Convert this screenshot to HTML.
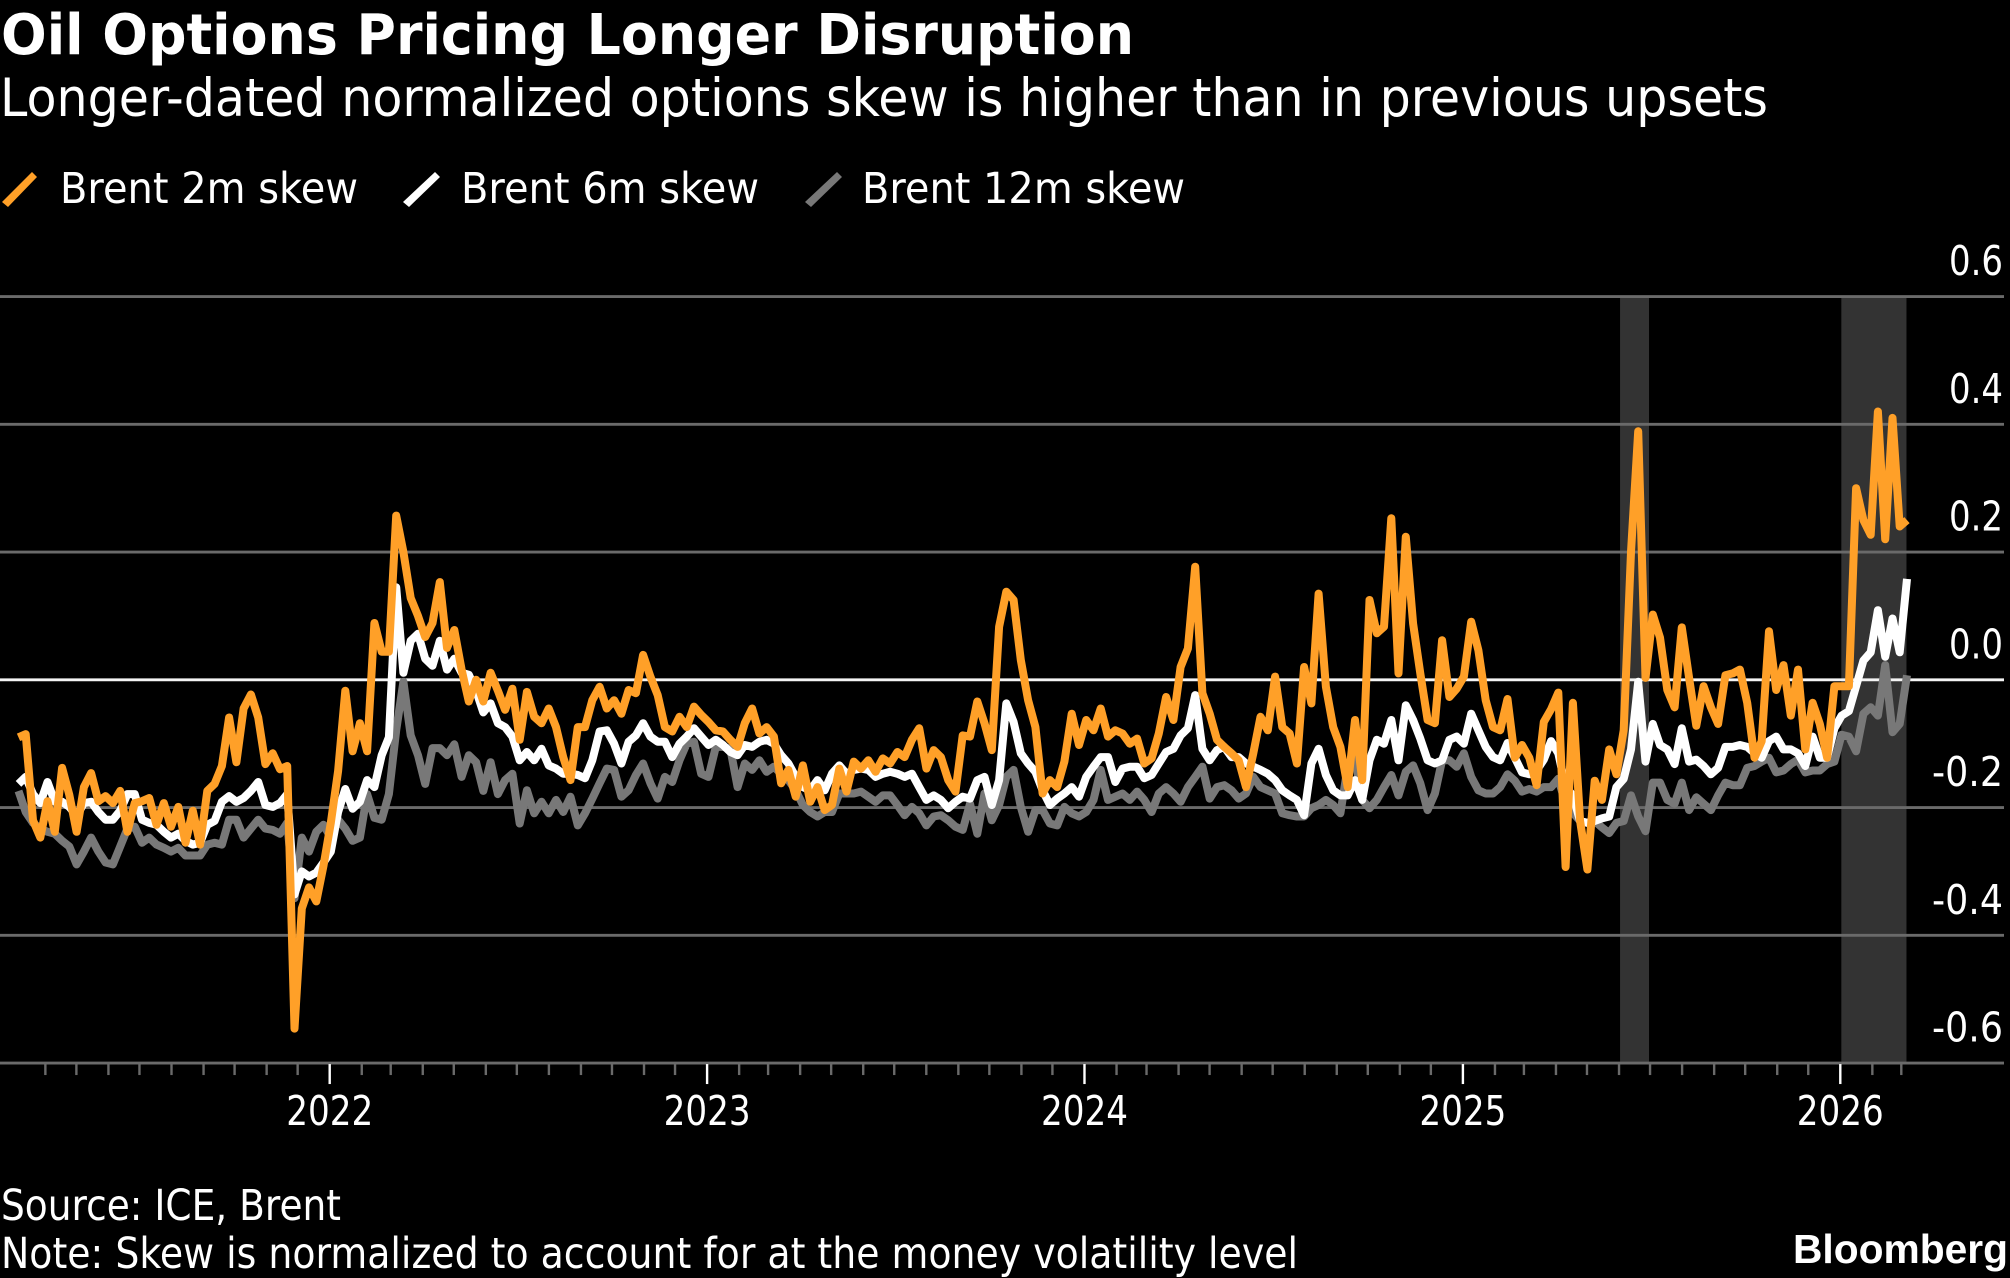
<!DOCTYPE html>
<html lang="en">
<head>
<meta charset="utf-8">
<title>Oil Options Pricing Longer Disruption</title>
<style>
html,body{margin:0;padding:0;background:#000;width:2010px;height:1278px;overflow:hidden}
svg{display:block}
text{fill:#fff;font-family:"DejaVu Sans","Liberation Sans",sans-serif}
</style>
</head>
<body>
<svg id="chart" xmlns="http://www.w3.org/2000/svg" width="2010" height="1278" viewBox="0 0 2010 1278">
  <rect x="0" y="0" width="2010" height="1278" fill="#000"/>
  <text x="1" y="54" font-size="56" font-weight="700" textLength="1133" lengthAdjust="spacingAndGlyphs">Oil Options Pricing Longer Disruption</text>
  <text x="0" y="116" font-size="53" textLength="1768" lengthAdjust="spacingAndGlyphs">Longer-dated normalized options skew is higher than in previous upsets</text>

  <g>
    <g>
      <polygon points="32,172 37,177 8,207 2,202" fill="#ffa028"/>
      <text x="60" y="203" font-size="43" textLength="298" lengthAdjust="spacingAndGlyphs">Brent 2m skew</text>
    </g>
    <g>
      <polygon points="435,172 440,177 409,207 403,202" fill="#ffffff"/>
      <text x="461" y="203" font-size="43" textLength="298" lengthAdjust="spacingAndGlyphs">Brent 6m skew</text>
    </g>
    <g>
      <polygon points="837,172 842,177 811,207 805,202" fill="#787878"/>
      <text x="862" y="203" font-size="43" textLength="323" lengthAdjust="spacingAndGlyphs">Brent 12m skew</text>
    </g>
  </g>

  <g id="bands"></g>
  <g id="grid"></g>
  <g id="yLabels"></g>
  <g id="ticks"></g>
  <g id="xLabels"></g>
  <g id="lines"></g>

  <text x="1" y="1220" font-size="43" textLength="340" lengthAdjust="spacingAndGlyphs">Source: ICE, Brent</text>
  <text x="1" y="1268" font-size="43" textLength="1297" lengthAdjust="spacingAndGlyphs">Note: Skew is normalized to account for at the money volatility level</text>
  <text x="1793" y="1263" font-size="41" font-weight="700" style="font-family:'Liberation Sans',sans-serif" textLength="215" lengthAdjust="spacingAndGlyphs">Bloomberg</text>
</svg>

<script>
const seriesStart = "2021-03-06";
const stepDays = 7.025;

const brent2m = [
-.09,-.085,-.22,-.247,-.19,-.238,-.138,-.18,-.238,-.168,-.146,-.19,-.182,-.193,-.174,-.238,-.193,-.19,-.185,-.227,
-.193,-.23,-.199,-.255,-.205,-.258,-.174,-.163,-.135,-.059,-.129,-.045,-.023,-.059,-.132,-.115,-.14,-.135,-.546,-.358,
-.325,-.347,-.291,-.224,-.143,-.017,-.112,-.068,-.112,.089,.044,.044,.257,.2,.128,.1,.067,.089,.153,.05,
.078,.016,-.034,0,-.034,.011,-.017,-.047,-.014,-.094,-.019,-.058,-.068,-.045,-.074,-.121,-.157,-.074,-.074,-.032,
-.011,-.045,-.032,-.053,-.016,-.021,.039,.005,-.024,-.074,-.081,-.058,-.074,-.042,-.055,-.066,-.079,-.081,-.094,-.105,
-.068,-.045,-.084,-.074,-.089,-.162,-.141,-.183,-.134,-.191,-.168,-.204,-.196,-.139,-.175,-.128,-.139,-.126,-.144,-.123,
-.131,-.113,-.121,-.094,-.076,-.139,-.11,-.121,-.157,-.175,-.087,-.089,-.034,-.068,-.11,.083,.138,.125,.031,-.032,
-.074,-.178,-.157,-.168,-.128,-.053,-.102,-.063,-.079,-.045,-.089,-.079,-.084,-.1,-.092,-.131,-.123,-.084,-.027,-.063,
.02,.049,.177,-.021,-.053,-.094,-.105,-.115,-.126,-.168,-.115,-.058,-.079,.005,-.074,-.084,-.131,.02,-.037,.135,
-.011,-.074,-.105,-.168,-.063,-.157,.125,.073,.083,.253,.01,.224,.088,.01,-.063,-.068,.062,-.027,-.014,.005,
.091,.046,-.032,-.074,-.079,-.03,-.122,-.102,-.122,-.165,-.066,-.046,-.02,-.293,-.036,-.221,-.297,-.158,-.188,-.109,
-.148,-.079,.2,.389,.003,.102,.066,-.016,-.043,.082,.003,-.072,-.01,-.043,-.069,.007,.01,.016,-.036,-.122,
-.096,.076,-.016,.023,-.056,.016,-.109,-.036,-.069,-.122,-.01,-.01,-.01,.3,.25,.227,.42,.22,.41,.24,.25
];

const brent6m = [
-.163,-.152,-.179,-.193,-.16,-.191,-.191,-.199,-.213,-.193,-.191,-.207,-.219,-.219,-.205,-.179,-.179,-.219,-.224,-.227,
-.238,-.247,-.241,-.252,-.258,-.255,-.227,-.221,-.191,-.182,-.191,-.185,-.174,-.16,-.196,-.199,-.193,-.179,-.336,-.3,
-.308,-.302,-.286,-.269,-.207,-.171,-.202,-.191,-.157,-.168,-.118,-.09,.145,.011,.061,.072,.033,.022,.061,.016,
.033,.011,.008,-.017,-.051,-.037,-.068,-.074,-.089,-.126,-.113,-.126,-.108,-.134,-.139,-.147,-.147,-.149,-.154,-.126,
-.081,-.079,-.1,-.131,-.097,-.087,-.068,-.089,-.097,-.097,-.121,-.1,-.089,-.076,-.089,-.102,-.094,-.102,-.113,-.118,
-.102,-.105,-.097,-.094,-.1,-.118,-.131,-.152,-.168,-.173,-.157,-.173,-.147,-.134,-.147,-.141,-.139,-.141,-.152,-.147,
-.144,-.147,-.152,-.147,-.168,-.188,-.181,-.188,-.201,-.191,-.183,-.186,-.157,-.152,-.196,-.157,-.037,-.066,-.115,-.131,
-.144,-.173,-.196,-.186,-.178,-.168,-.183,-.152,-.136,-.121,-.121,-.16,-.139,-.136,-.136,-.154,-.149,-.131,-.113,-.108,
-.087,-.076,-.024,-.108,-.126,-.11,-.105,-.121,-.121,-.131,-.136,-.141,-.147,-.157,-.173,-.181,-.188,-.212,-.131,-.108,
-.149,-.173,-.181,-.181,-.157,-.188,-.126,-.094,-.1,-.063,-.126,-.04,-.063,-.092,-.126,-.131,-.126,-.094,-.089,-.1,
-.053,-.079,-.105,-.121,-.126,-.099,-.122,-.145,-.148,-.142,-.125,-.096,-.115,-.168,-.181,-.221,-.224,-.221,-.217,-.214,
-.168,-.155,-.109,-.003,-.128,-.069,-.102,-.109,-.132,-.076,-.128,-.125,-.135,-.148,-.138,-.105,-.105,-.102,-.105,-.115,
-.122,-.096,-.089,-.109,-.109,-.115,-.135,-.089,-.122,-.122,-.076,-.056,-.049,-.01,.03,.043,.109,.036,.096,.043,.158
];

const brent12m = [
-.174,-.207,-.224,-.233,-.238,-.241,-.252,-.261,-.289,-.269,-.247,-.269,-.286,-.289,-.261,-.233,-.23,-.255,-.247,-.258,
-.263,-.269,-.263,-.275,-.275,-.275,-.258,-.255,-.258,-.219,-.219,-.247,-.233,-.219,-.233,-.235,-.241,-.224,-.342,-.247,
-.269,-.238,-.227,-.247,-.219,-.233,-.252,-.247,-.179,-.216,-.219,-.179,-.079,-.003,-.087,-.118,-.163,-.107,-.107,-.118,
-.101,-.152,-.118,-.129,-.174,-.129,-.179,-.157,-.147,-.225,-.173,-.209,-.191,-.209,-.188,-.207,-.183,-.228,-.209,-.186,
-.162,-.139,-.141,-.183,-.173,-.149,-.131,-.162,-.186,-.152,-.16,-.126,-.1,-.097,-.147,-.152,-.105,-.105,-.108,-.168,
-.131,-.141,-.126,-.144,-.136,-.147,-.157,-.173,-.196,-.207,-.214,-.207,-.207,-.178,-.178,-.178,-.175,-.183,-.191,-.181,
-.181,-.196,-.212,-.199,-.209,-.228,-.214,-.212,-.22,-.23,-.235,-.194,-.241,-.178,-.22,-.196,-.152,-.141,-.199,-.238,
-.204,-.204,-.225,-.228,-.199,-.209,-.214,-.207,-.188,-.141,-.188,-.183,-.178,-.188,-.175,-.188,-.207,-.178,-.168,-.178,
-.191,-.168,-.152,-.136,-.186,-.168,-.165,-.173,-.186,-.178,-.152,-.168,-.173,-.178,-.209,-.212,-.214,-.214,-.201,-.196,
-.188,-.196,-.209,-.136,-.121,-.188,-.201,-.188,-.168,-.149,-.181,-.144,-.134,-.162,-.204,-.178,-.126,-.126,-.136,-.115,
-.152,-.173,-.178,-.178,-.168,-.148,-.158,-.175,-.171,-.175,-.168,-.168,-.155,-.194,-.208,-.221,-.224,-.221,-.231,-.24,
-.224,-.221,-.181,-.214,-.237,-.161,-.161,-.188,-.194,-.161,-.204,-.184,-.194,-.204,-.181,-.161,-.165,-.165,-.138,-.135,
-.128,-.122,-.145,-.142,-.132,-.125,-.145,-.142,-.142,-.132,-.128,-.086,-.089,-.112,-.053,-.043,-.056,.023,-.082,-.069,.007
];

const yTicks = [0.6, 0.4, 0.2, 0.0, -0.2, -0.4, -0.6];
const yTickLabels = ["0.6", "0.4", "0.2", "0.0", "-0.2", "-0.4", "-0.6"];
const yearLabels = [2022, 2023, 2024, 2025, 2026];
const tickMonths = ["2021-04","2021-05","2021-06","2021-07","2021-08","2021-09","2021-10","2021-11","2021-12","2022-01","2022-02","2022-03","2022-04","2022-05","2022-06","2022-07","2022-08","2022-09","2022-10","2022-11","2022-12","2023-01","2023-02","2023-03","2023-04","2023-05","2023-06","2023-07","2023-08","2023-09","2023-10","2023-11","2023-12","2024-01","2024-02","2024-03","2024-04","2024-05","2024-06","2024-07","2024-08","2024-09","2024-10","2024-11","2024-12","2025-01","2025-02","2025-03","2025-04","2025-05","2025-06","2025-07","2025-08","2025-09","2025-10","2025-11","2025-12","2026-01","2026-02","2026-03"];
const bandStarts = ["2025-06-02", "2026-01-02"];
const bandEnds = ["2025-06-30", "2026-03-06"];

const NS = "http://www.w3.org/2000/svg";
const DAY = 86400000;
const X0 = Date.UTC(2022, 0, 1);
const PX_PER_DAY = 377.65 / 365.25;
const xScale = ms => 329.7 + (ms - X0) / DAY * PX_PER_DAY;
const xDate = s => xScale(Date.parse(s));
const yScale = v => 679.8 - v * 638.75;
const yTop = yScale(0.6);
const yBottom = yScale(-0.6);

function make(tag, attrs, parent) {
  const el = document.createElementNS(NS, tag);
  for (const k in attrs) el.setAttribute(k, attrs[k]);
  parent.appendChild(el);
  return el;
}

const bandsG = document.getElementById("bands");
bandStarts.forEach((s, i) => {
  const r = make("rect", {x: xDate(s), y: yTop, width: xDate(bandEnds[i]) - xDate(s), height: yBottom - yTop, fill: "#333333"}, bandsG);
  
  
});

const gridG = document.getElementById("grid");
const yLabelG = document.getElementById("yLabels");
yTicks.forEach((v, i) => {
  const isZero = v === 0;
  const l = make("line", {x1: 0, x2: 2004, y1: yScale(v), y2: yScale(v), stroke: isZero ? "#f4f4f4" : "#6a6a6a", "stroke-width": 2.8}, gridG);
  
  
  const t = make("text", {x: 2003, y: yScale(v) - 21.5, "text-anchor": "end", "font-size": 41}, yLabelG);
  t.textContent = yTickLabels[i];
  t.setAttribute('textLength', yTickLabels[i].length > 3 ? 71 : 54);
  t.setAttribute('lengthAdjust', 'spacingAndGlyphs');
  
  
});

const tickG = document.getElementById("ticks");
tickMonths.forEach(m => {
  const major = m.endsWith("-01");
  const x = xDate(m + "-01");
  const l = make("line", {x1: x, x2: x, y1: yBottom + 1, y2: yBottom + (major ? 21 : 12), stroke: major ? "#ffffff" : "#6a6a6a", "stroke-width": 2.4}, tickG);
  
  
});

const xLabelG = document.getElementById("xLabels");
yearLabels.forEach(y => {
  const t = make("text", {x: xDate(y + "-01-01"), y: 1125, "text-anchor": "middle", "font-size": 41, textLength: 87, lengthAdjust: "spacingAndGlyphs"}, xLabelG);
  t.textContent = y;
  
  
});

const linesG = document.getElementById("lines");
const startMs = Date.parse(seriesStart);
function pathFor(values) {
  return values.map((v, i) => (i ? "L" : "M") + xScale(startMs + i * stepDays * DAY).toFixed(1) + " " + yScale(v).toFixed(1)).join("");
}
function addLine(values, color, width) {
  const p = make("path", {d: pathFor(values), fill: "none", stroke: color, "stroke-width": width, "stroke-linejoin": "round", "stroke-linecap": "butt"}, linesG);
  return p;
}
const line12 = addLine(brent12m, "#787878", 8);


const line6 = addLine(brent6m, "#ffffff", 8);


const line2 = addLine(brent2m, "#ffa028", 8);


</script>
</body>
</html>
